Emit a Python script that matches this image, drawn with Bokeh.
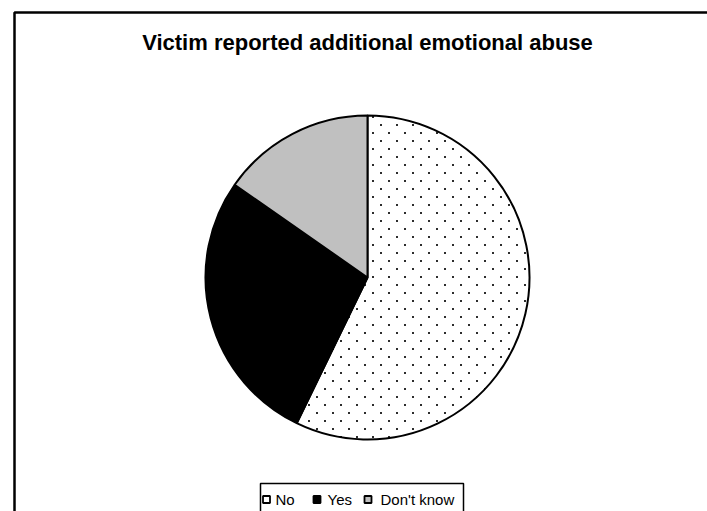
import math, zlib, struct, base64
from bokeh.plotting import figure
from bokeh.models import Range1d, ColumnDataSource, ImageURLTexture
from bokeh.core.properties import value
from bokeh.embed import file_html
from bokeh.resources import INLINE

# ---- data ----
title_text = "Victim reported additional emotional abuse"
categories = ["No", "Yes", "Don't know"]
shares = [57.2, 27.5, 15.3]

# ---- styles ----
fill_colors = ["white", "black", "#c0c0c0"]
hatches = ["dots", " ", " "]
FONT = "Liberation Sans"


def _png_tile(size=16):
    # staggered dot texture tile (RGBA)
    px = [[(0, 0, 0, 0)] * size for _ in range(size)]
    for (cx0, cy0) in [(4, 4), (12, 12)]:
        for dx in (0, 1):
            for dy in (0, 1):
                px[cy0 + dy][cx0 + dx] = (45, 45, 45, 255)
    raw = b"".join(b"\x00" + bytes([c for p_ in row for c in p_]) for row in px)

    def chunk(t, d):
        return struct.pack(">I", len(d)) + t + d + struct.pack(">I", zlib.crc32(t + d) & 0xffffffff)
    data = (b"\x89PNG\r\n\x1a\n" + chunk(b"IHDR", struct.pack(">IIBBBBB", size, size, 8, 6, 0, 0, 0))
            + chunk(b"IDAT", zlib.compress(raw)) + chunk(b"IEND", b""))
    return "data:image/png;base64," + base64.b64encode(data).decode()


dots = ImageURLTexture(url=_png_tile())

W, H = 707, 511
p = figure(width=W, height=H, output_backend="svg", toolbar_location=None,
           x_range=Range1d(0, W), y_range=Range1d(0, H), min_border=0)
p.axis.visible = False
p.grid.visible = False
p.outline_line_color = None
p.background_fill_color = "white"
p.border_fill_color = "white"

# outer chart border (top and left visible; right/bottom run off the page)
p.line(x=[14, 14, W + 20], y=[-20, 499, 499], line_color="black", line_width=2.5)

# pie
cx, cy, r = 367, 234, 162
total = sum(shares)
starts, ends = [], []
a = math.pi / 2
for s in shares:
    ang = 2 * math.pi * s / total
    starts.append(a)
    a -= ang
    ends.append(a)
src = ColumnDataSource(dict(start=starts, end=ends, color=fill_colors,
                            hatch=hatches, label=categories))
p.wedge(x=cx, y=cy, radius=r, start_angle="start", end_angle="end",
        direction="clock", source=src, fill_color="color",
        hatch_pattern="hatch", hatch_extra={"dots": dots},
        line_color="black", line_width=2)

# title
p.text(x=[367], y=[469], text=[title_text], text_font=value(FONT),
       text_font_style="bold", text_font_size="22px", text_align="center",
       text_baseline="middle", text_color="black")

# legend box
p.line(x=[260, 260, 463, 463], y=[-20, 28, 28, -20], line_color="black", line_width=1.5)
lx = [266, 316.5, 367.5]
tx = [275, 327, 380]
p.rect(x=lx, y=[12] * 3, width=7, height=7, fill_color=fill_colors,
       line_color="black", line_width=1.8)
p.text(x=tx, y=[12] * 3, text=categories, text_font=value(FONT), text_font_size="15px",
       text_baseline="middle", text_align="left", text_color="black")

open("out.html", "w").write(file_html(p, INLINE))
